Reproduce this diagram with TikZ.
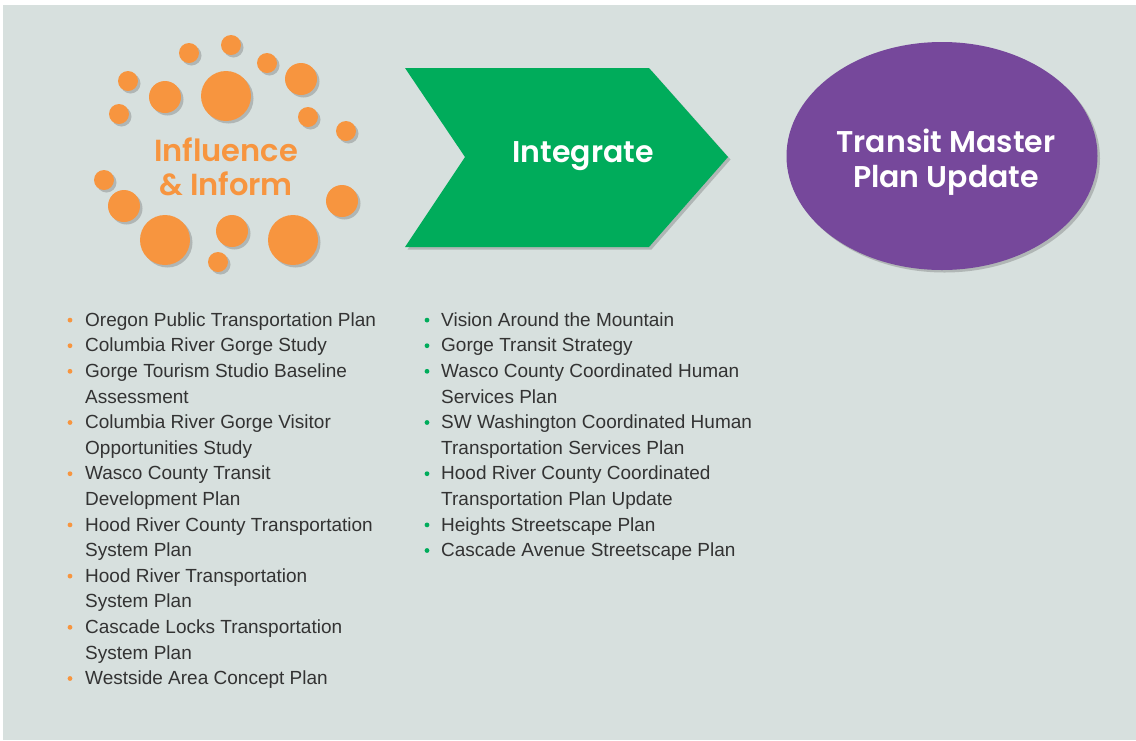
\documentclass[tikz,border=0pt]{standalone}
\usepackage{fontspec}
\setmainfont{Liberation Sans}
\newfontfamily\headfont{Poppins SemiBold}
\usetikzlibrary{shapes.geometric,shadows}
\definecolor{paneback}{HTML}{D7E0DE}
\definecolor{sunorange}{HTML}{F7953F}
\definecolor{joingreen}{HTML}{00AC5B}
\definecolor{planpurple}{HTML}{76489B}
\definecolor{listgray}{HTML}{333333}
\tikzset{
  soft/.style={drop shadow={shadow xshift=2.5pt,shadow yshift=-2.5pt,opacity=.28,fill=black!70}},
  dot/.style={fill=sunorange,soft},
  item/.style={anchor=north west,inner sep=0pt,align=left,text=listgray,
    font=\fontsize{19}{25.6}\selectfont,execute at begin node=\strut},
  head/.style={inner sep=0pt,align=center,font=\headfont}
}
\begin{document}
\begin{tikzpicture}[x=1pt,y=-1pt]
				\useasboundingbox (0,0) rectangle (1136,740);
				\fill[white] (0,0) rectangle (1136,740);
				\fill[paneback] (3,5) rectangle (1136,740);
				\fill[dot] (189,53) circle (10);
				\fill[dot] (231,45) circle (10);
				\fill[dot] (267,63) circle (10);
				\fill[dot] (128,81) circle (10);
				\fill[dot] (301,79) circle (16);
				\fill[dot] (165,97) circle (16);
				\fill[dot] (226,96) circle (25);
				\fill[dot] (119,114) circle (10);
				\fill[dot] (308,117) circle (10);
				\fill[dot] (346,131) circle (10);
				\fill[dot] (104,180) circle (10);
				\fill[dot] (124,206) circle (16);
				\fill[dot] (342,201) circle (16);
				\fill[dot] (232,231) circle (16);
				\fill[dot] (165,240) circle (25);
				\fill[dot] (293,240) circle (25);
				\fill[dot] (218,262) circle (10);
				\node[head,text=sunorange,font=\headfont\fontsize{30.5}{34}\selectfont] (inform) at (226,167) {Influence\\\& Inform};
				\fill[joingreen,soft] (405,68) -- (649,68) -- (728,157) -- (649,247) -- (405,247) -- (465,157) -- cycle;
				\node[head,text=white,font=\headfont\fontsize{30}{36}\selectfont] (integrate) at (583,156) {Integrate};
				\node[ellipse,fill=planpurple,soft,minimum width=311pt,minimum height=228pt,inner sep=0pt] (plan) at (942,156) {};
				\node[head,text=white,font=\headfont\fontsize{30}{35}\selectfont] (plantext) at (946,162) {Transit Master\\Plan Update};
				\node[item] (ia) at (85,308.1) {Oregon Public Transportation Plan};
				\node[item] (ib) at (85,333.7) {Columbia River Gorge Study};
				\node[item] (ic) at (85,359.3) {\strut Gorge Tourism Studio Baseline\\Assessment};
				\node[item] (id) at (85,410.5) {\strut Columbia River Gorge Visitor\\Opportunities Study};
				\node[item] (ie) at (85,461.7) {\strut Wasco County Transit\\Development Plan};
				\node[item] (if) at (85,512.9) {\strut Hood River County Transportation\\System Plan};
				\node[item] (ig) at (85,564.1) {\strut Hood River Transportation\\System Plan};
				\node[item] (ih) at (85,615.3) {\strut Cascade Locks Transportation\\System Plan};
				\node[item] (ii) at (85,666.5) {Westside Area Concept Plan};
				\fill[sunorange] ([shift={(-15,12)}]ia.north west) circle (2.4);
				\fill[sunorange] ([shift={(-15,12)}]ib.north west) circle (2.4);
				\fill[sunorange] ([shift={(-15,12)}]ic.north west) circle (2.4);
				\fill[sunorange] ([shift={(-15,12)}]id.north west) circle (2.4);
				\fill[sunorange] ([shift={(-15,12)}]ie.north west) circle (2.4);
				\fill[sunorange] ([shift={(-15,12)}]if.north west) circle (2.4);
				\fill[sunorange] ([shift={(-15,12)}]ig.north west) circle (2.4);
				\fill[sunorange] ([shift={(-15,12)}]ih.north west) circle (2.4);
				\fill[sunorange] ([shift={(-15,12)}]ii.north west) circle (2.4);
				\node[item] (ga) at (441,308.1) {Vision Around the Mountain};
				\node[item] (gb) at (441,333.7) {Gorge Transit Strategy};
				\node[item] (gc) at (441,359.3) {\strut Wasco County Coordinated Human\\Services Plan};
				\node[item] (gd) at (441,410.5) {\strut SW Washington Coordinated Human\\Transportation Services Plan};
				\node[item] (ge) at (441,461.7) {\strut Hood River County Coordinated\\Transportation Plan Update};
				\node[item] (gf) at (441,512.9) {Heights Streetscape Plan};
				\node[item] (gg) at (441,538.5) {Cascade Avenue Streetscape Plan};
				\fill[joingreen] ([shift={(-14,12)}]ga.north west) circle (2.4);
				\fill[joingreen] ([shift={(-14,12)}]gb.north west) circle (2.4);
				\fill[joingreen] ([shift={(-14,12)}]gc.north west) circle (2.4);
				\fill[joingreen] ([shift={(-14,12)}]gd.north west) circle (2.4);
				\fill[joingreen] ([shift={(-14,12)}]ge.north west) circle (2.4);
				\fill[joingreen] ([shift={(-14,12)}]gf.north west) circle (2.4);
				\fill[joingreen] ([shift={(-14,12)}]gg.north west) circle (2.4);
			\end{tikzpicture}
\end{document}
